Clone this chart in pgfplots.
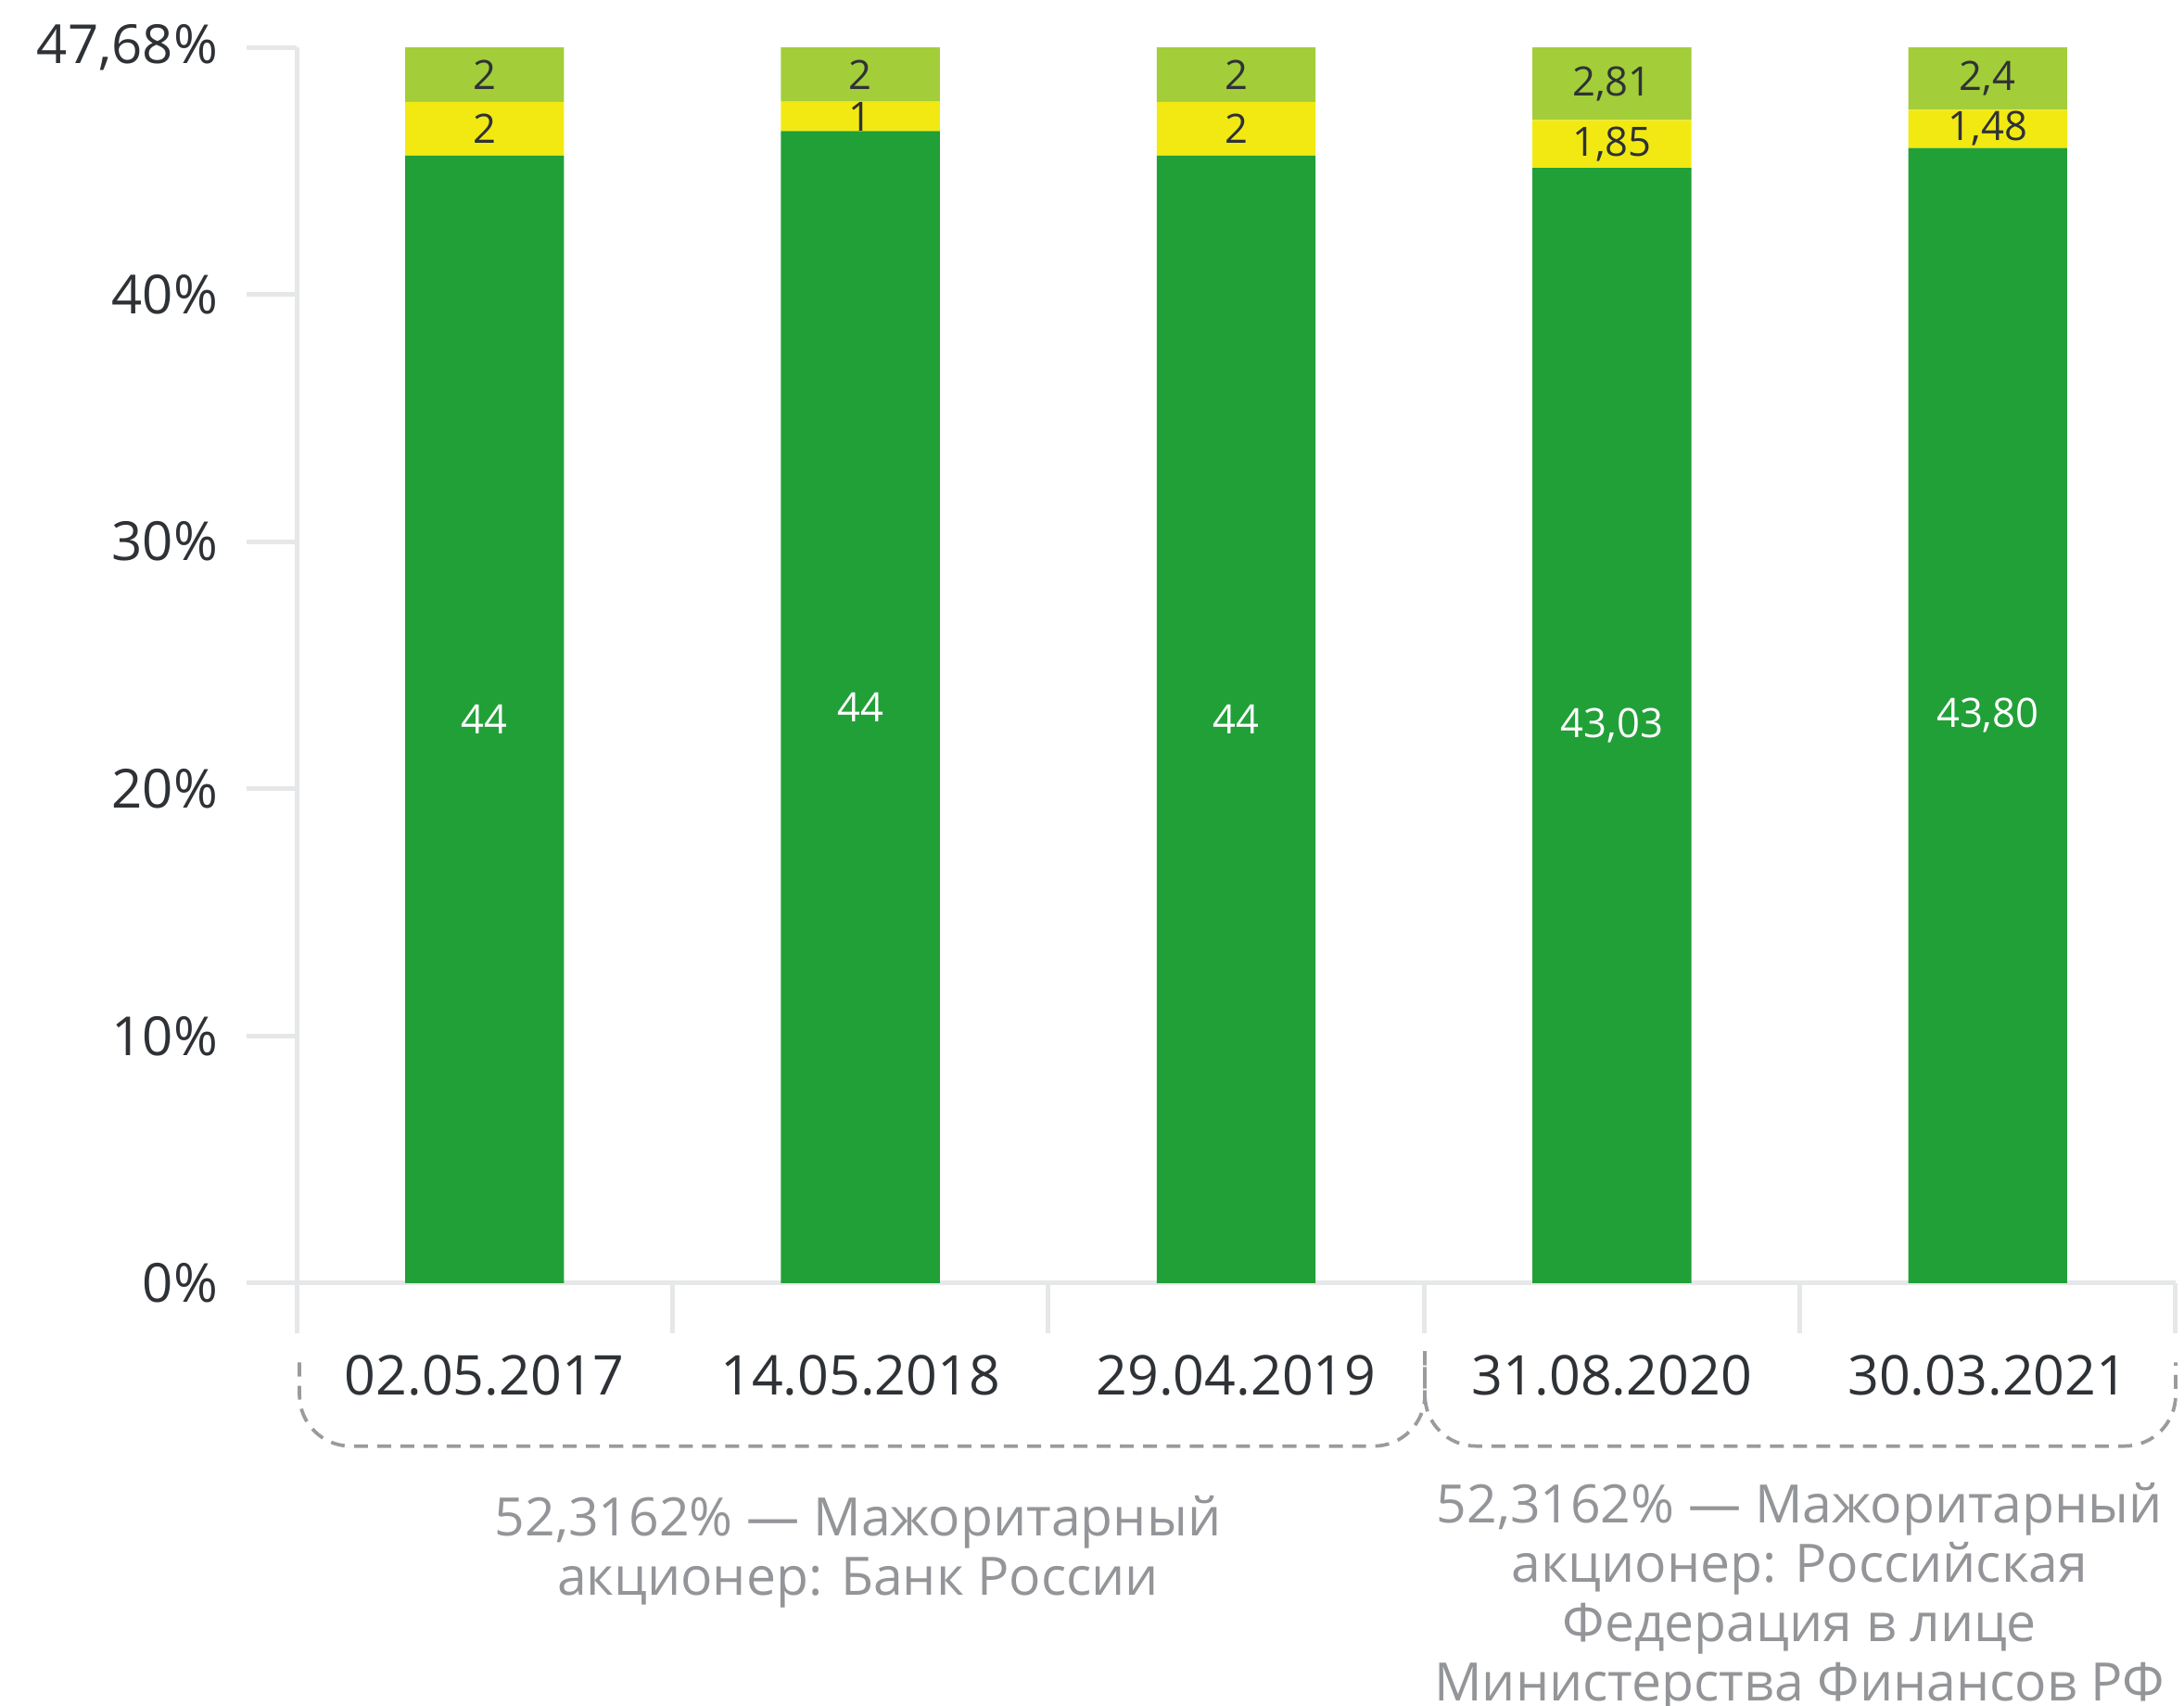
\documentclass[border=0pt]{standalone}
\usepackage{fontspec}
\setmainfont{Open Sans}
\usepackage{pgfplots}
\usepackage{pgfplotstable}
\pgfplotsset{compat=1.18}
\definecolor{sgreen}{HTML}{21A038}
\definecolor{syellow}{HTML}{F2E913}
\definecolor{slight}{HTML}{A3CD39}
\definecolor{axgray}{HTML}{E6E7E8}
\definecolor{txt}{HTML}{2E3236}
\definecolor{gtxt}{HTML}{939598}
\definecolor{brk}{HTML}{999B9E}
% bar heights as drawn (the chart's axis top, labelled 47,68%, sits at 50)
\pgfplotstableread{
x g y l gl yl ll
0 45.62 2.17 2.21 44 2 2
1 46.61 1.19 2.20 44 1 2
2 45.62 2.17 2.21 44 2 2
3 45.12 1.94 2.94 {43,03} {1,85} {2,81}
4 45.93 1.55 2.52 {43,80} {1,48} {2,4}
}\shares
\begin{document}
\begin{tikzpicture}
\begin{axis}[
  at={(63.9pt,-276.3pt)}, anchor=south west,
  scale only axis, width=404.7pt, height=266.1pt,
  ybar stacked, bar width=34.2pt,
  xmin=-0.5, xmax=4.5, ymin=0, ymax=50,
  clip=false,
  axis x line*=bottom, axis y line*=left,
  axis line style={draw=axgray, line width=1pt, -},
  every tick/.style={draw=axgray, line width=1pt},
  tick align=outside, major tick length=10.8pt,
  ytick={0,10,20,30,40,50},
  yticklabels={0\%,10\%,20\%,30\%,40\%,{47,68\%}},
  yticklabel style={anchor=east, inner sep=0pt, xshift=-6pt, font=\fontsize{11.6}{14}\selectfont, text=txt},
  xtick={-0.5,0.5,1.5,2.5,3.5,4.5}, xticklabels={},
  extra x ticks={0,1,2,3,4},
  extra x tick labels={02.05.2017,14.05.2018,29.04.2019,31.08.2020,30.03.2021},
  extra x tick style={major tick length=0pt, xticklabel style={anchor=center, yshift=-19.8pt, inner sep=0pt, font=\fontsize{11.8}{14}\selectfont, text=txt}},
  nodes near coords, point meta=explicit symbolic,
  every node near coord/.append style={anchor=center, inner sep=0pt, font=\fontsize{8.7}{10}\selectfont},
]
\addplot[fill=sgreen, draw=none, every node near coord/.append style={text=white}]
  table[x=x, y=g, meta=gl] {\shares};
\addplot[fill=syellow, draw=none, every node near coord/.append style={text=txt}]
  table[x=x, y=y, meta=yl] {\shares};
\addplot[fill=slight, draw=none, every node near coord/.append style={text=txt}]
  table[x=x, y=l, meta=ll] {\shares};
\end{axis}
\begin{scope}[x=0.3pt,y=-0.3pt]
\draw[brk, line width=0.75pt, dash pattern=on 3pt off 2pt, rounded corners=11pt]
  (215,978) -- (215,1038) -- (1023,1038) -- (1023,970);
\draw[brk, line width=0.75pt, dash pattern=on 3pt off 2pt, rounded corners=11pt]
  (1023,970) -- (1023,1038) -- (1562,1038) -- (1562,978);
\node[text=gtxt, align=center, font=\fontsize{11.4}{12.7}\selectfont, anchor=north, inner sep=0pt] at (616,1073)
  {52,3162\% — Мажоритарный\\акционер: Банк России};
\node[text=gtxt, align=center, font=\fontsize{11.4}{12.75}\selectfont, anchor=north, inner sep=0pt] at (1292,1064)
  {52,3162\% — Мажоритарный\\акционер: Российская\\Федерация в лице\\Министерства Финансов РФ};
\pgfresetboundingbox
\path[use as bounding box] (0,0) rectangle (1568,1224);
\end{scope}
\end{tikzpicture}
\end{document}
